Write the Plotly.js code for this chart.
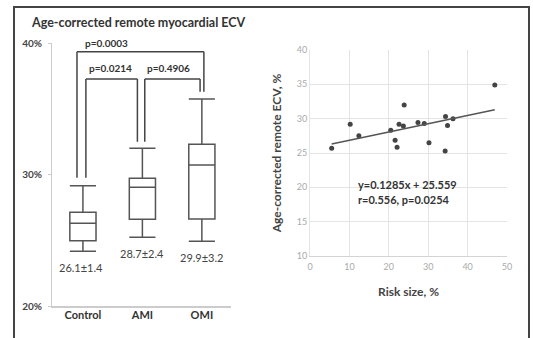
<!DOCTYPE html>
<html>
<head>
<meta charset="utf-8">
<script src="https://cdn.plot.ly/plotly-3.0.1.min.js"></script>
<style>html,body{margin:0;padding:0;background:#fff;}#chart{width:533px;height:338px;}</style>
</head>
<body>
<div id="chart"></div>
<script>
// ---- Data ----
const groups = ['Control', 'AMI', 'OMI'];
const boxMin = [24.16, 25.22, 24.92];
const boxQ1 = [24.97, 26.59, 26.62];
const boxMedian = [26.29, 29.03, 30.72];
const boxQ3 = [27.13, 29.71, 32.30];
const boxMax = [29.15, 31.99, 35.74];
const meanLabels = ['26.1±1.4', '28.7±2.4', '29.9±3.2'];
const pLabels = ['p=0.0003', 'p=0.0214', 'p=0.4906'];
const leftTickVals = [20, 30, 40];
const leftTickText = ['20%', '30%', '40%'];

const riskSize = [5.5, 10.2, 12.4, 20.5, 21.6, 22.1, 22.6, 23.7, 23.9, 27.4, 29.0, 30.2, 34.4, 34.9, 34.3, 36.3, 46.9];
const remoteEcv = [25.7, 29.2, 27.5, 28.3, 26.85, 25.85, 29.2, 28.95, 32.0, 29.45, 29.3, 26.5, 30.3, 29.0, 25.3, 30.0, 34.9];
const fitX = [5.5, 46.9];
const fitY = [26.3, 31.3];
const fitText = ['y=0.1285x + 25.559', 'r=0.556, p=0.0254'];

const W = 533, H = 338;
const px = v => v / W;
const py = v => (H - v) / H;
const FONT = 'Lato, "Open Sans", sans-serif';

const traces = [];
groups.forEach((g, i) => {
  traces.push({
    type: 'box', x: [g], q1: [boxQ1[i]], median: [boxMedian[i]], q3: [boxQ3[i]],
    lowerfence: [boxMin[i]], upperfence: [boxMax[i]],
    width: 0.44, whiskerwidth: 1,
    line: {color: '#555', width: 1.5}, fillcolor: '#fff',
    boxpoints: false, hoverinfo: 'skip', showlegend: false,
    xaxis: 'x', yaxis: 'y'
  });
});
traces.push({
  type: 'scatter', mode: 'markers', x: riskSize, y: remoteEcv,
  marker: {size: 5, color: '#444'}, xaxis: 'x2', yaxis: 'y2', showlegend: false
});
traces.push({
  type: 'scatter', mode: 'lines', x: fitX, y: fitY,
  line: {color: '#555', width: 1.5}, xaxis: 'x2', yaxis: 'y2', showlegend: false
});

const bc = {color: '#444', width: 1.5};
function seg(x0, y0, x1, y1) {
  return {type: 'line', xref: 'x', yref: 'y', x0, y0, x1, y1, line: bc};
}
const shapes = [
  // p=0.0003 bracket (Control - OMI)
  seg(-0.10, 29.76, -0.10, 39.34), seg(-0.10, 39.34, 2.034, 39.34), seg(2.034, 39.34, 2.034, 36.3),
  // p=0.0214 bracket (Control - AMI)
  seg(0.05, 29.76, 0.05, 37.26), seg(0.05, 37.26, 0.916, 37.26), seg(0.916, 37.26, 0.916, 32.49),
  // p=0.4906 bracket (AMI - OMI)
  seg(1.04, 32.49, 1.04, 37.26), seg(1.04, 37.26, 1.97, 37.26), seg(1.97, 37.26, 1.97, 36.3),
  // outer frame
  {type: 'rect', xref: 'paper', yref: 'paper', x0: px(14), x1: px(529), y0: -0.1, y1: py(7),
   line: {color: '#444', width: 2}}
];

const annotations = [
  {text: 'Age-corrected remote myocardial ECV', xref: 'paper', yref: 'paper', x: px(138), y: py(22),
   xanchor: 'center', yanchor: 'middle', showarrow: false,
   font: {family: FONT, size: 12.5, color: '#333', weight: 'bold'}},
  {text: pLabels[0], xref: 'x', yref: 'y', x: 0.39, y: 39.98, showarrow: false,
   font: {family: FONT, size: 10, color: '#333', weight: 'bold'}},
  {text: pLabels[1], xref: 'x', yref: 'y', x: 0.46, y: 38.1, showarrow: false,
   font: {family: FONT, size: 10, color: '#333', weight: 'bold'}},
  {text: pLabels[2], xref: 'x', yref: 'y', x: 1.44, y: 38.1, showarrow: false,
   font: {family: FONT, size: 10, color: '#333', weight: 'bold'}},
  {text: meanLabels[0], xref: 'x', yref: 'y', x: -0.03, y: 22.91, showarrow: false,
   font: {family: FONT, size: 11, color: '#444'}},
  {text: meanLabels[1], xref: 'x', yref: 'y', x: 1, y: 24.0, showarrow: false,
   font: {family: FONT, size: 11, color: '#444'}},
  {text: meanLabels[2], xref: 'x', yref: 'y', x: 2, y: 23.7, showarrow: false,
   font: {family: FONT, size: 11, color: '#444'}},
  {text: fitText[0], xref: 'paper', yref: 'paper', x: px(356), y: py(184), xanchor: 'left', yanchor: 'middle', showarrow: false,
   font: {family: FONT, size: 11, color: '#333', weight: 'bold'}},
  {text: fitText[1], xref: 'paper', yref: 'paper', x: px(356), y: py(199), xanchor: 'left', yanchor: 'middle', showarrow: false,
   font: {family: FONT, size: 11, color: '#333', weight: 'bold'}}
];

const layout = {
  width: W, height: H, margin: {l: 0, r: 0, t: 0, b: 0},
  paper_bgcolor: '#fff', plot_bgcolor: '#fff', showlegend: false,
  font: {family: FONT},
  xaxis: {
    domain: [px(52), px(231)], anchor: 'y', type: 'category', range: [-0.52, 2.49],
    showgrid: false, zeroline: false, showline: true, linecolor: '#ccc', linewidth: 1.5,
    ticks: '', tickfont: {family: FONT, size: 11, color: '#333', weight: 'bold'}, ticklabelstandoff: -2
  },
  yaxis: {
    domain: [py(306), py(43)], anchor: 'x', range: [20, 40],
    tickmode: 'array', tickvals: leftTickVals, ticktext: leftTickText,
    showgrid: false, zeroline: false, showline: true, linecolor: '#ccc', linewidth: 1,
    ticks: 'outside', ticklen: 3, tickcolor: '#ccc', ticklabelstandoff: 4,
    tickfont: {family: FONT, size: 10, color: '#444', weight: 'bold'}
  },
  xaxis2: {
    domain: [px(310), px(507)], anchor: 'y2', range: [0, 50], dtick: 10,
    showgrid: true, gridcolor: '#e4e4e4', zeroline: false, showline: true, linecolor: '#d4d4d4',
    ticks: '', tickfont: {family: FONT, size: 9, color: '#aaa'}, ticklabelstandoff: 2,
    title: {text: 'Risk size, %', font: {family: FONT, size: 12, color: '#444', weight: 'bold'}, standoff: 16}
  },
  yaxis2: {
    domain: [py(256), py(50)], anchor: 'x2', range: [10, 40], dtick: 5,
    showgrid: true, gridcolor: '#e4e4e4', zeroline: false, showline: true, linecolor: '#e4e4e4',
    ticks: '', tickfont: {family: FONT, size: 9, color: '#aaa'},
    title: {text: 'Age-corrected remote ECV, %', font: {family: FONT, size: 12, color: '#444', weight: 'bold'}, standoff: 12}
  },
  shapes, annotations
};

Plotly.newPlot('chart', traces, layout, {staticPlot: true, displayModeBar: false});
</script>
</body>
</html>
